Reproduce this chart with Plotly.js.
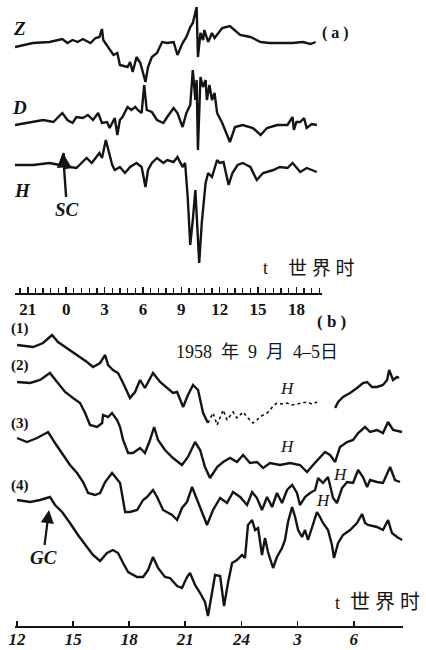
<!DOCTYPE html>
<html><head><meta charset="utf-8">
<script src="https://cdn.plot.ly/plotly-3.0.1.min.js"></script>
<style>html,body{margin:0;padding:0;background:#fff}#chart{width:426px;height:650px}</style>
</head><body><div id="chart"></div>
<script>
// ---- (a) panel: time in UT hours (20 = 20h on day 1, 24 = 0h next day) ----
const tZ = [20.0,21.4,22.7,23.7,24.1,24.5,24.9,25.3,25.9,26.3,26.6,26.8,26.9,27.4,27.7,28.0,28.2,28.8,29.0,29.2,29.5,29.8,30.2,30.4,30.7,31.1,31.5,31.9,32.4,32.7,33.1,33.4,33.7,33.9,34.2,34.3,34.5,34.7,34.8,35.1,35.4,35.6,36.2,36.8,37.6,38.4,39.2,39.9,41.0,41.7,42.5,43.1,43.5];
const vZ = [-2,2,3,6,2,5,3,6,2,7,8,16,5,-5,-10,-8,-20,-22,-17,-27,-12,-18,-37,-22,-12,-8,3,2,3,-10,2,8,18,22,38,-12,12,5,15,3,12,7,17,19,10,8,3,2,2,2,3,1,3];
const tD = [20.0,21.2,22.2,23.0,23.7,24.1,24.5,24.8,25.3,25.7,26.1,26.5,26.8,27.2,27.4,27.8,28.0,28.2,28.4,28.8,29.1,29.4,29.6,29.9,30.1,30.3,30.7,31.1,31.6,31.9,32.4,32.7,33.1,33.4,33.7,33.9,34.1,34.2,34.3,34.5,34.7,34.9,35.0,35.2,35.4,35.6,35.8,36.2,36.6,36.8,37.2,37.8,38.6,39.2,39.7,40.5,41.3,41.7,41.8,42.0,42.3,42.6,42.8,43.2,43.6];
const vD = [0,3,5,3,12,5,2,8,7,10,5,12,2,3,-3,7,-10,5,8,18,15,18,15,12,40,15,13,5,2,8,17,12,-2,12,20,55,25,45,-25,48,38,45,25,40,25,32,12,2,-12,-17,-2,0,-3,-10,-3,0,0,8,-5,3,3,7,-3,1,0];
const tH = [20.0,21.4,22.7,23.5,23.8,23.9,24.3,24.8,25.2,25.6,26.0,26.6,26.8,27.1,27.3,27.6,27.8,28.2,28.6,29.0,29.5,29.9,30.2,30.4,30.7,31.1,31.6,31.9,32.4,32.7,33.1,33.3,33.5,33.7,33.9,34.1,34.4,34.6,34.9,35.1,35.4,35.8,36.0,36.3,36.7,37.0,37.4,37.8,38.4,38.9,39.4,40.2,40.7,41.3,41.7,42.0,42.3,42.8,43.6];
const vH = [0,0,2,0,12,-3,-2,-3,2,7,2,12,7,25,15,0,-5,-2,-8,-2,2,-2,-22,-5,2,7,2,5,3,8,-2,2,-32,-80,-55,-25,-98,-58,-18,-8,-12,5,2,3,-20,-8,0,2,-2,-15,-8,-5,-2,-3,2,-3,-7,-3,-7];
const topTickVals = [21,24,27,30,33,36,39,42];
const topTickText = ["21","0","3","6","9","12","15","18"];

// ---- (b) panel: 1958-09-04/05, UT hours from 0h Sept 4 ----
const t1a = [12.0,12.86,13.39,13.87,14.19,14.67,15.21,15.74,16.06,16.44,16.71,16.87,17.13,17.40,17.67,18.04,18.31,18.58,18.84,19.27,19.65,20.02,20.34,20.56,20.88,21.14,21.41,21.68,21.95,22.21];
const v1a = [0,-2,2,10,3,-3,-10,-17,-22,-18,-10,-20,-25,-28,-38,-53,-47,-35,-43,-28,-37,-43,-48,-47,-62,-50,-40,-45,-68,-78];
const t1b = [22.21,22.48,22.70,22.86,23.02,23.23,23.39,23.55,23.76,23.93,24.09,24.30,24.46,24.62,24.83,24.99,25.16,25.37,25.53,25.69,25.90,26.17,26.44,26.71,26.97,27.24,27.51,27.78,28.04];
const v1b = [-78,-68,-80,-73,-65,-75,-71,-67,-73,-70,-67,-72,-75,-78,-75,-72,-70,-68,-65,-61,-58,-59,-58,-60,-59,-58,-57,-59,-57];
const t1c = [29.01,29.17,29.43,29.81,30.18,30.50,30.72,30.98,31.25,31.57,31.79,31.90,32.11,32.32,32.43];
const v1c = [-63,-57,-52,-48,-43,-38,-37,-42,-42,-40,-35,-25,-35,-32,-33];
const t2 = [12.0,12.7,13.23,13.76,14.14,14.57,14.99,15.37,15.64,15.90,16.28,16.55,16.60,16.87,17.08,17.35,17.51,17.67,17.94,18.20,18.58,18.84,19.11,19.33,19.54,19.91,20.34,20.82,21.14,21.52,21.79,22.05,22.32,22.59,22.70,23.02,23.39,23.76,24.09,24.46,24.83,25.16,25.53,26.06,26.60,27.13,27.51,27.83,28.20,28.47,28.74,29.01,29.27,29.65,29.97,30.24,30.61,30.88,31.25,31.57,31.84,32.11,32.59];
const v2 = [0,-1,2,9,0,-10,-16,-21,-31,-43,-45,-41,-33,-35,-31,-38,-45,-58,-71,-71,-66,-71,-58,-45,-58,-68,-76,-83,-75,-60,-68,-85,-96,-88,-85,-80,-76,-80,-73,-81,-80,-86,-81,-83,-81,-83,-90,-83,-75,-70,-73,-80,-65,-60,-58,-51,-45,-50,-48,-51,-40,-48,-50];
const t3 = [12.0,12.53,13.07,13.66,14.03,14.46,14.83,15.21,15.53,15.80,16.17,16.44,16.71,17.08,17.35,17.51,17.78,18.04,18.42,18.74,18.95,19.27,19.49,19.81,20.29,20.56,20.82,21.09,21.36,21.63,21.89,22.16,22.48,22.86,23.23,23.55,23.93,24.30,24.57,24.83,25.10,25.37,25.64,25.90,26.17,26.44,26.71,26.97,27.13,27.40,27.67,27.94,28.10,28.36,28.63,28.90,29.11,29.38,29.65,29.97,30.24,30.50,30.72,30.88,31.25,31.57,31.95,32.21,32.48];
const v3 = [0,-4,0,6,-5,-17,-27,-35,-44,-55,-57,-55,-44,-35,-42,-45,-74,-74,-72,-62,-59,-52,-59,-72,-77,-82,-70,-64,-49,-62,-74,-87,-72,-60,-65,-54,-59,-67,-54,-60,-72,-59,-69,-55,-65,-52,-47,-55,-67,-59,-55,-52,-40,-45,-39,-60,-65,-50,-44,-45,-32,-39,-49,-42,-44,-45,-29,-42,-44];
const t4 = [12.0,12.7,13.23,13.76,14.03,14.41,14.83,15.26,15.74,16.06,16.44,16.81,17.13,17.40,17.67,17.94,18.42,18.74,19.01,19.27,19.54,19.91,20.18,20.56,20.82,21.09,21.25,21.52,21.79,22.05,22.21,22.48,22.59,22.86,23.07,23.28,23.50,23.76,24.03,24.19,24.35,24.57,24.73,24.89,25.10,25.26,25.42,25.69,25.90,26.17,26.33,26.49,26.71,26.87,27.03,27.24,27.40,27.56,27.78,28.04,28.20,28.36,28.63,28.84,28.95,29.17,29.43,29.81,30.18,30.45,30.61,30.77,31.25,31.57,31.84,32.05,32.32,32.59];
const v4 = [0,-2,0,3,-5,-12,-23,-35,-47,-55,-61,-53,-50,-53,-63,-72,-77,-77,-70,-57,-68,-77,-78,-86,-88,-77,-73,-85,-93,-102,-116,-85,-75,-76,-106,-83,-63,-60,-55,-58,-25,-20,-30,-28,-55,-38,-52,-68,-57,-48,-40,-22,-7,-17,-30,-37,-30,-40,-28,-12,-17,-23,-30,-45,-58,-43,-35,-30,-23,-14,-23,-25,-27,-30,-20,-33,-37,-40];
const botTickVals = [12,15,18,21,24,27,30];
const botTickText = ["12","15","18","21","24","3","6"];

// ---- layout helpers (pixel -> paper) ----
const W = 426, Hh = 650;
const px = x => x / W, py = y => 1 - y / Hh;
const ink = '#141414';
const serif = 'Liberation Serif, Times New Roman, serif';
const cjk = 'Liberation Serif, Noto Sans CJK SC, serif';

// vertical offsets of each trace inside its panel (panel units)
const offZ = 248, offD = 168, offH = 128;
const off1 = 281, off2 = 244, off3 = 188, off4 = 126;
const shift = (arr, o) => arr.map(v => v + o);

function line(t, v, o, xa, ya, dash) {
  return {x: t, y: shift(v, o), xaxis: xa, yaxis: ya, type: 'scatter', mode: 'lines',
    line: {color: ink, width: dash ? 1.6 : 2.4, dash: dash || 'solid', shape: 'linear'},
    hoverinfo: 'skip', showlegend: false};
}

const data = [
  line(tZ, vZ, offZ, 'x', 'y'),
  line(tD, vD, offD, 'x', 'y'),
  line(tH, vH, offH, 'x', 'y'),
  line(t1a, v1a, off1, 'x2', 'y2'),
  line(t1b, v1b, off1, 'x2', 'y2', 'dot'),
  line(t1c, v1c, off1, 'x2', 'y2'),
  line(t2, v2, off2, 'x2', 'y2'),
  line(t3, v3, off3, 'x2', 'y2'),
  line(t4, v4, off4, 'x2', 'y2')
];

function txt(x, y, s, size, opts) {
  return Object.assign({xref: 'paper', yref: 'paper', x: px(x), y: py(y), text: s,
    showarrow: false, xanchor: 'center', yanchor: 'middle',
    font: {family: serif, size: size, color: ink}}, opts || {});
}

const annotations = [
  txt(19, 28, '<b><i>Z</i></b>', 19),
  txt(19, 107, '<b><i>D</i></b>', 19),
  txt(22, 190, '<b><i>H</i></b>', 19),
  txt(335, 33, '<b>( a )</b>', 16),
  txt(261, 268, 't', 18, {xanchor: 'left'}),
  txt(286, 268, '世 界 时', 19, {xanchor: 'left', font: {family: cjk, size: 19, color: ink}}),
  txt(331, 322, '<b>( b )</b>', 17),
  txt(20, 328, '<b>(1)</b>', 15),
  txt(20, 365, '<b>(2)</b>', 15),
  txt(20, 424, '<b>(3)</b>', 15),
  txt(20, 485, '<b>(4)</b>', 15),
  txt(257, 352, '1958  年  9  月  4–5日', 18, {font: {family: cjk, size: 18, color: ink}}),
  txt(287, 388, '<i>H</i>', 17),
  txt(287, 446, '<i>H</i>', 17),
  txt(340, 474, '<i>H</i>', 17),
  txt(323, 500, '<i>H</i>', 17),
  txt(333, 603, 't', 18, {xanchor: 'left'}),
  txt(348, 602, '世 界 时', 20, {xanchor: 'left', font: {family: cjk, size: 20, color: ink}}),
  // SC arrow (sudden commencement)
  {xref: 'x', yref: 'y', x: 23.75, y: 140, text: '<b><i>SC</i></b>', showarrow: true,
   ax: 4, ay: 56, arrowhead: 2, arrowsize: 1.2, arrowwidth: 2.4, arrowcolor: ink,
   font: {family: serif, size: 19, color: ink}},
  // GC arrow (gradual commencement)
  {xref: 'x2', yref: 'y2', x: 13.71, y: 116, text: '<b><i>GC</i></b>', showarrow: true,
   ax: -6, ay: 47, arrowhead: 2, arrowsize: 1.2, arrowwidth: 2.2, arrowcolor: ink,
   font: {family: serif, size: 19, color: ink}}
];

const layout = {
  width: W, height: Hh, margin: {l: 0, r: 0, t: 0, b: 0},
  paper_bgcolor: '#fff', plot_bgcolor: 'rgba(0,0,0,0)', showlegend: false,
  xaxis: {domain: [px(15), px(322)], range: [20, 44], anchor: 'y',
    showline: true, linewidth: 2, linecolor: ink, showgrid: false, zeroline: false,
    tickmode: 'array', tickvals: topTickVals, ticktext: topTickText,
    ticks: 'inside', ticklen: 6, tickwidth: 1.5, tickcolor: ink,
    minor: {tick0: 21, dtick: 0.6, ticks: 'inside', ticklen: 5, tickwidth: 1.3, tickcolor: ink, showgrid: false},
    tickfont: {family: serif, size: 17, color: ink}, ticklabelstandoff: 0, fixedrange: true},
  yaxis: {domain: [py(293), 1], range: [0, 293], anchor: 'x', visible: false, fixedrange: true},
  xaxis2: {domain: [px(15), px(403)], range: [11.89, 32.64], anchor: 'y2',
    showline: true, linewidth: 2, linecolor: ink, showgrid: false, zeroline: false,
    tickmode: 'array', tickvals: botTickVals, ticktext: botTickText,
    ticks: 'inside', ticklen: 5, tickwidth: 1.8, tickcolor: ink,
    tickfont: {family: serif, size: 17, color: ink}, ticklabelstandoff: -3, fixedrange: true},
  yaxis2: {domain: [py(626), py(300)], range: [0, 326], anchor: 'x2', visible: false, fixedrange: true},
  annotations: annotations
};

Plotly.newPlot('chart', data, layout, {staticPlot: true, displayModeBar: false});
// italic bold look for bottom tick labels, bold for top ones
setTimeout(() => {
  document.querySelectorAll('.x2tick text').forEach(t => { t.style.fontStyle = 'italic'; t.style.fontWeight = 'bold'; });
  document.querySelectorAll('.xtick text').forEach(t => { t.style.fontWeight = 'bold'; });
}, 0);
</script></body></html>
